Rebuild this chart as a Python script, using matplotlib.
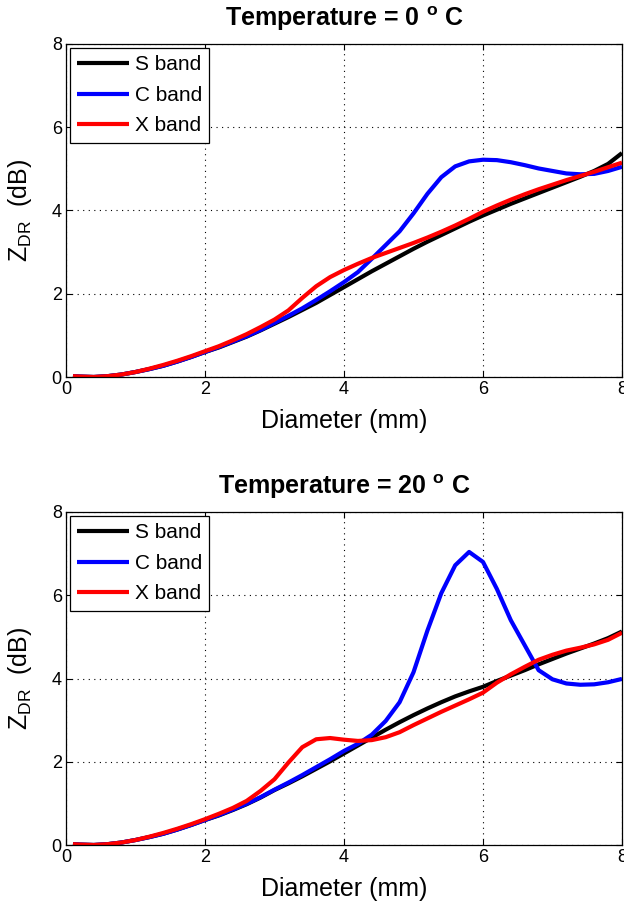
import matplotlib
matplotlib.use("Agg")
import matplotlib.pyplot as plt

plt.rcParams['font.family'] = ['Liberation Sans', 'DejaVu Sans']
plt.rcParams['mathtext.fontset'] = 'custom'
plt.rcParams['mathtext.rm'] = 'Liberation Sans'
plt.rcParams['mathtext.it'] = 'Liberation Sans'
plt.rcParams['mathtext.bf'] = 'Liberation Sans:bold'

# diameter grid (mm)
diam = [0.1, 0.2, 0.4, 0.6, 0.8, 1.0, 1.2, 1.4, 1.6, 1.8, 2.0, 2.2, 2.4, 2.6, 2.8,
        3.0, 3.2, 3.4, 3.6, 3.8, 4.0, 4.2, 4.4, 4.6, 4.8, 5.0, 5.2, 5.4, 5.6, 5.8,
        6.0, 6.2, 6.4, 6.6, 6.8, 7.0, 7.2, 7.4, 7.6, 7.8, 8.0]

# T = 0 C
s_band_0 = [0.02, 0.01, 0.0, 0.02, 0.06, 0.12, 0.19, 0.27, 0.37, 0.48, 0.6, 0.71, 0.84, 0.97, 1.12,
            1.28, 1.44, 1.61, 1.78, 1.97, 2.16, 2.35, 2.54, 2.72, 2.9, 3.08, 3.25, 3.41, 3.57, 3.73,
            3.88, 4.02, 4.16, 4.29, 4.42, 4.55, 4.68, 4.81, 4.95, 5.12, 5.38]
c_band_0 = [0.02, 0.01, 0.0, 0.02, 0.06, 0.12, 0.19, 0.27, 0.37, 0.48, 0.6, 0.72, 0.85, 0.98, 1.13,
            1.3, 1.47, 1.65, 1.85, 2.06, 2.28, 2.52, 2.84, 3.17, 3.5, 3.93, 4.4, 4.8, 5.06, 5.18,
            5.22, 5.21, 5.16, 5.09, 5.01, 4.95, 4.89, 4.87, 4.88, 4.95, 5.05]
x_band_0 = [0.02, 0.01, 0.0, 0.02, 0.06, 0.12, 0.2, 0.29, 0.39, 0.5, 0.62, 0.74, 0.88, 1.03, 1.2,
            1.38, 1.6, 1.9, 2.18, 2.4, 2.57, 2.72, 2.86, 2.98, 3.1, 3.22, 3.35, 3.49, 3.64, 3.8,
            3.97, 4.12, 4.26, 4.39, 4.51, 4.62, 4.73, 4.83, 4.93, 5.04, 5.15]

# T = 20 C
s_band_20 = [0.02, 0.01, 0.0, 0.02, 0.06, 0.12, 0.19, 0.27, 0.37, 0.48, 0.6, 0.71, 0.84, 0.98, 1.14,
             1.32, 1.48, 1.65, 1.83, 2.01, 2.2, 2.39, 2.58, 2.77, 2.95, 3.12, 3.28, 3.43, 3.57, 3.69,
             3.8, 3.94, 4.07, 4.2, 4.34, 4.47, 4.6, 4.72, 4.84, 4.97, 5.13]
c_band_20 = [0.02, 0.01, 0.0, 0.02, 0.06, 0.12, 0.19, 0.27, 0.37, 0.48, 0.6, 0.72, 0.85, 0.99, 1.15,
             1.33, 1.5, 1.68, 1.87, 2.06, 2.26, 2.43, 2.65, 2.98, 3.43, 4.15, 5.15, 6.05, 6.72, 7.04,
             6.8, 6.15, 5.4, 4.8, 4.2, 3.98, 3.88, 3.85, 3.86, 3.91, 3.99]
x_band_20 = [0.02, 0.01, 0.0, 0.02, 0.06, 0.12, 0.2, 0.29, 0.39, 0.5, 0.62, 0.75, 0.89, 1.06, 1.3,
             1.58, 1.98, 2.35, 2.54, 2.57, 2.53, 2.5, 2.52, 2.59, 2.71, 2.88, 3.04, 3.2, 3.35, 3.5,
             3.66, 3.9, 4.1, 4.28, 4.45, 4.57, 4.67, 4.74, 4.82, 4.93, 5.1]

panels = [
    ('0', s_band_0, c_band_0, x_band_0),
    ('20', s_band_20, c_band_20, x_band_20),
]
band_names = ['S band', 'C band', 'X band']
band_colors = ['black', 'blue', 'red']

fig = plt.figure(figsize=(6.24, 9.01), dpi=100)
W, H = 624.0, 901.0
ax_bottoms = [377, 845]  # pixel rows of y=0

for (temp, s, c, x), ybot in zip(panels, ax_bottoms):
    ax = fig.add_axes([66 / W, 1 - ybot / H, 556 / W, 333 / H])
    for vals, name, col in zip([s, c, x], band_names, band_colors):
        ax.plot(diam, vals, color=col, lw=3, label=name,
                solid_capstyle='butt', solid_joinstyle='round')
    ax.set_xlim(0, 8)
    ax.set_ylim(0, 8)
    ax.set_xticks([0, 2, 4, 6, 8])
    ax.set_yticks([0, 2, 4, 6, 8])
    ax.grid(True, color='black', linestyle=(0, (1, 4)), linewidth=0.8)
    ax.tick_params(direction='in', length=4, width=0.8, labelsize=13,
                   top=True, right=True, pad=3)
    for sp in ax.spines.values():
        sp.set_linewidth(0.9)
    ax.set_xlabel('Diameter (mm)', fontsize=18, labelpad=8)
    ax.set_ylabel(r'$\mathregular{Z_{DR}}$  (dB)', fontsize=18, labelpad=13)
    ax.set_title(r'Temperature = ' + temp + r' $^{\mathbf{o}}$ C', fontsize=18,
                 fontweight='bold', pad=13)
    leg = ax.legend(loc='upper left', fontsize=15, frameon=True, fancybox=False,
                    edgecolor='black', framealpha=1, borderaxespad=0.2,
                    handlelength=2.45, handletextpad=0.3, labelspacing=0.55,
                    borderpad=0.35)
    leg.get_frame().set_linewidth(0.9)

fig.savefig('out.png', dpi=100)
